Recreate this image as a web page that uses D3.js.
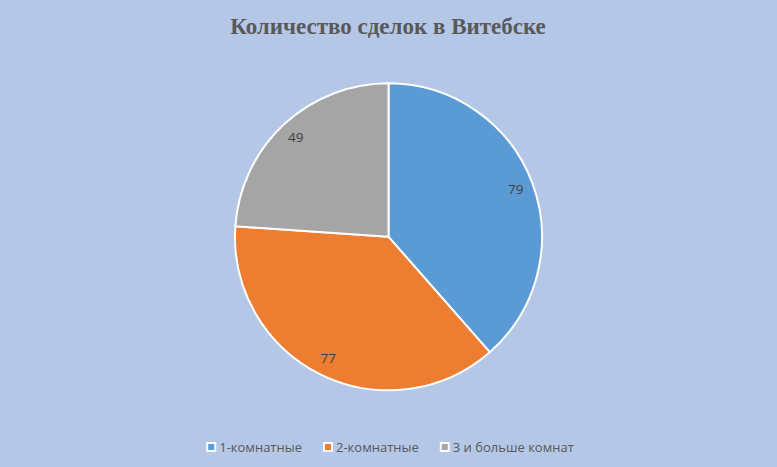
<!DOCTYPE html>
<html>
<head>
<meta charset="utf-8">
<script src="https://cdn.jsdelivr.net/npm/d3@7"></script>
<style>
html,body{margin:0;padding:0;background:#B4C7E7;}
svg{display:block;}
</style>
</head>
<body>
<svg id="chart" width="777" height="467"></svg>
<script>
const title = "Количество сделок в Витебске";
const categories = ["1-комнатные", "2-комнатные", "3 и больше комнат"];
const values = [79, 77, 49];
const colors = ["#5B9BD5", "#ED7D31", "#A5A5A5"];

const W = 777, H = 467;
const svg = d3.select("#chart");
svg.append("rect").attr("width", W).attr("height", H).attr("fill", "#B4C7E7");

svg.append("text")
  .attr("x", 388).attr("y", 34)
  .attr("text-anchor", "middle")
  .attr("font-family", "Liberation Serif, Times New Roman, serif")
  .attr("font-weight", "bold")
  .attr("font-size", 23)
  .attr("fill", "#595959")
  .text(title);

const cx = 388.5, cy = 236.8, R = 153.5;
const data = categories.map((c, i) => ({cat: c, value: values[i], color: colors[i]}));
const pie = d3.pie().value(d => d.value).sort(null);
const arcs = pie(data);
const arc = d3.arc().innerRadius(0).outerRadius(R);
const labelArc = d3.arc().innerRadius(136).outerRadius(136);

const g = svg.append("g").attr("transform", `translate(${cx},${cy})`);
g.selectAll("path").data(arcs).join("path")
  .attr("d", arc)
  .attr("fill", d => d.data.color)
  .attr("stroke", "#FFFFFF")
  .attr("stroke-width", 2)
  .attr("stroke-linejoin", "round");

g.selectAll("text.lbl").data(arcs).join("text")
  .attr("class", "lbl")
  .attr("transform", d => `translate(${labelArc.centroid(d)})`)
  .attr("text-anchor", "middle")
  .attr("dy", "0.35em")
  .attr("font-family", "Open Sans, sans-serif")
  .attr("font-size", 13.5)
  .attr("fill", "#404040")
  .text(d => d.data.value);

// legend
const lg = svg.append("g");
const items = lg.selectAll("g").data(data).join("g");
items.append("rect")
  .attr("x", 0).attr("y", -5).attr("width", 10).attr("height", 10)
  .attr("fill", "#FFFFFF");
items.append("rect")
  .attr("x", 2).attr("y", -3).attr("width", 6).attr("height", 6)
  .attr("fill", d => d.color);
items.append("text")
  .attr("x", 13).attr("dy", "0.35em")
  .attr("font-family", "Open Sans, sans-serif")
  .attr("font-size", 13)
  .attr("fill", "#595959")
  .text(d => d.cat);

let xpos = 0;
const gap = 21;
const widths = [];
items.each(function(d, i) {
  const tw = d3.select(this).select("text").node().getComputedTextLength();
  widths.push(13 + tw);
});
items.attr("transform", (d, i) => {
  const x = xpos;
  xpos += widths[i] + gap;
  return `translate(${x},0)`;
});
const total = xpos - gap;
lg.attr("transform", `translate(${390 - total / 2},447)`);
</script>
</body>
</html>
